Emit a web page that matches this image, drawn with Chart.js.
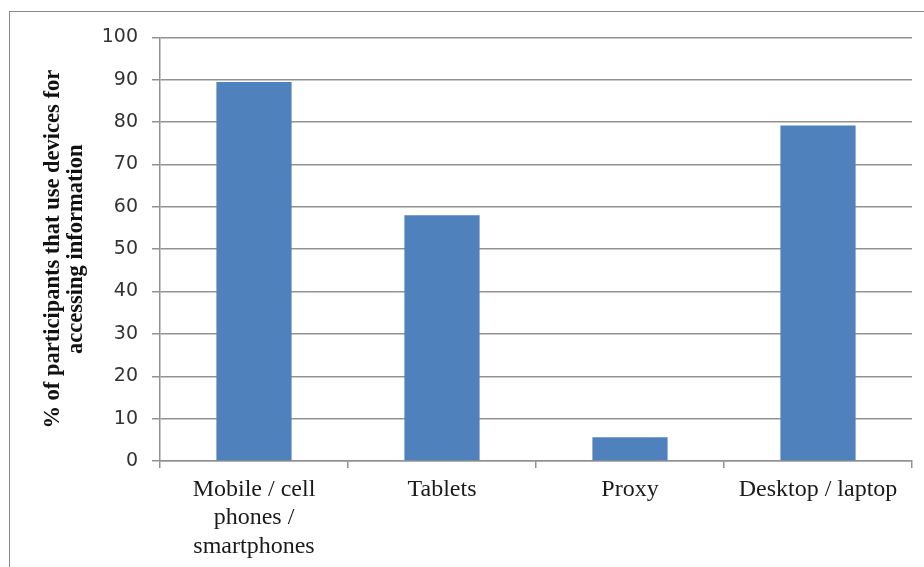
<!DOCTYPE html>
<html lang="en">
<head>
    <meta charset="UTF-8">
    <title>Devices for accessing information</title>
    <script src="https://cdn.jsdelivr.net/npm/chart.js"></script>
    <style>
        body { margin: 0; background: #fff; overflow: hidden; }
        #frame { position: absolute; left: 9px; top: 11px; width: 920px; height: 560px; border: 1px solid #8a8a8a; }
    </style>
</head>
<body>
    <div id="frame"><canvas id="chart" width="920" height="560"></canvas></div>

    <script>
        const categories = [["Mobile / cell", "phones /", "smartphones"], "Tablets", "Proxy", "Desktop / laptop"];
        const values = [89.5, 58, 5.6, 79.2];
        const yTitle = ["% of participants that use devices for", "accessing information"];

        const gridColor = '#929292';

        new Chart(document.getElementById('chart'), {
            type: 'bar',
            data: {
                labels: categories,
                datasets: [{
                    data: values,
                    backgroundColor: '#4f81bd',
                    borderWidth: 0,
                    categoryPercentage: 1,
                    barPercentage: 0.4
                }]
            },
            options: {
                responsive: false,
                animation: false,
                layout: { padding: { top: 25, right: 18, left: 0, bottom: 0 } },
                plugins: { legend: { display: false }, tooltip: { enabled: false } },
                scales: {
                    x: {
                        afterFit: s => { s.height = 111; },
                        grid: { drawOnChartArea: false, drawTicks: true, tickLength: 7, color: gridColor, lineWidth: 1.5, offset: true },
                        border: { display: true, color: gridColor, width: 1.5 },
                        ticks: {
                            color: '#1a1a1a',
                            padding: 7,
                            maxRotation: 0,
                            autoSkip: false,
                            font: { family: '"Liberation Serif", "Times New Roman", serif', size: 24, lineHeight: 1.2 }
                        }
                    },
                    y: {
                        min: 0,
                        max: 100,
                        afterFit: s => { s.width = 150; },
                        grid: { color: gridColor, lineWidth: 1.5, tickLength: 8 },
                        border: { display: true, color: gridColor, width: 1.5 },
                        ticks: {
                            stepSize: 10,
                            color: '#333',
                            padding: 14,
                            font: { family: '"DejaVu Sans", Verdana, sans-serif', size: 19 }
                        },
                        title: {
                            display: true,
                            text: yTitle,
                            color: '#111',
                            padding: { top: 32, bottom: 0 },
                            font: { family: '"Liberation Serif", "Times New Roman", serif', size: 22.5, weight: 'bold', lineHeight: 1.02 }
                        }
                    }
                }
            }
        });
    </script>
</body>
</html>
